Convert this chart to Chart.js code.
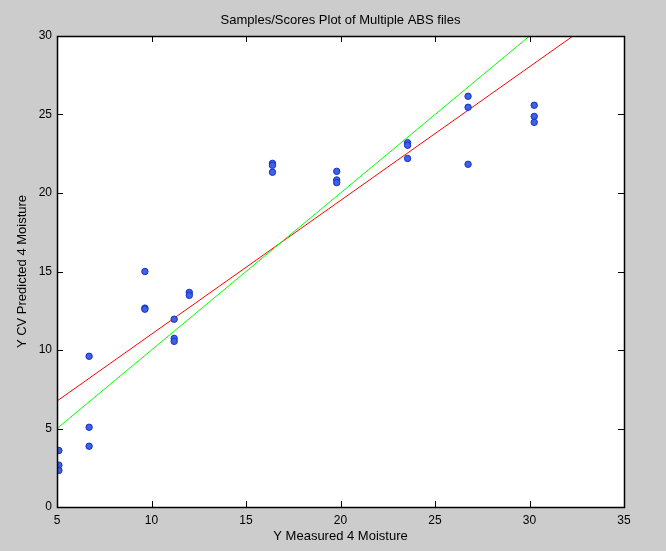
<!DOCTYPE html>
<html>
<head>
<meta charset="utf-8">
<script src="https://cdn.jsdelivr.net/npm/chart.js@4.4.1/dist/chart.umd.min.js"></script>
<style>
html,body{margin:0;padding:0;background:#cccccc;}
#wrap{width:666px;height:551px;position:relative;}
</style>
</head>
<body>
<div id="wrap"><canvas id="c" width="666" height="551"></canvas></div>
<script>
// ---- data ----
const measuredX = [5.1,5.1,5.1, 6.7,6.7,6.7, 9.65,9.65,9.65, 11.2,11.2,11.2, 12.0,12.0, 16.4,16.4,16.4, 19.8,19.8,19.8, 23.55,23.55,23.55, 26.75,26.75,26.75, 30.25,30.25,30.25];
const predictedY = [3.6,2.67,2.33, 9.6,5.08,3.87, 15.0,12.67,12.6, 11.96,10.74,10.55, 13.67,13.48, 21.89,21.76,21.32, 21.38,20.83,20.66, 23.2,23.04,22.2, 26.16,25.46,21.83, 25.59,24.88,24.5];
const idealLineX = [5, 30];
const idealLineY = [5, 30];
const fitLineX = [5, 32.3];
const fitLineY = [6.75, 30];
const xTicks = [5,10,15,20,25,30,35];
const yTicks = [0,5,10,15,20,25,30];
const titleText = 'Samples/Scores Plot of Multiple ABS files';
const xTitle = 'Y Measured 4 Moisture';
const yTitle = 'Y CV Predicted 4 Moisture';

const pts = measuredX.map((x,i)=>({x:x,y:predictedY[i]}));
const ideal = idealLineX.map((x,i)=>({x:x,y:idealLineY[i]}));
const fit = fitLineX.map((x,i)=>({x:x,y:fitLineY[i]}));

const FONT = "'Liberation Sans', Arial, sans-serif";
const TEXT = '#000000';

const boxPlugin = {
  id:'box',
  beforeDraw(chart){
    const ctx=chart.ctx, a=chart.chartArea;
    ctx.save();
    ctx.fillStyle='#cccccc';
    ctx.fillRect(0,0,chart.width,chart.height);
    ctx.fillStyle='#ffffff';
    ctx.fillRect(a.left,a.top,a.right-a.left,a.bottom-a.top);
    ctx.restore();
  },
  afterDraw(chart){
    const ctx=chart.ctx, a=chart.chartArea;
    const xs=chart.scales.x, ys=chart.scales.y;
    const L=6;
    ctx.save();
    ctx.strokeStyle='#000';
    ctx.lineWidth=1;
    ctx.beginPath();
    xTicks.forEach(v=>{
      const p=Math.round(xs.getPixelForValue(v))+0.5;
      ctx.moveTo(p,a.bottom); ctx.lineTo(p,a.bottom-L);
      ctx.moveTo(p,a.top); ctx.lineTo(p,a.top+L);
    });
    yTicks.forEach(v=>{
      const p=Math.round(ys.getPixelForValue(v))+0.5;
      ctx.moveTo(a.left,p); ctx.lineTo(a.left+L,p);
      ctx.moveTo(a.right,p); ctx.lineTo(a.right-L,p);
    });
    ctx.stroke();
    ctx.lineWidth=1.5;
    ctx.strokeRect(Math.round(a.left)+0.5,Math.round(a.top)+0.5,Math.round(a.right-a.left),Math.round(a.bottom-a.top));
    ctx.restore();
  }
};

new Chart(document.getElementById('c'),{
  type:'scatter',
  data:{datasets:[
    {label:'samples',data:pts,pointRadius:3.2,pointHoverRadius:3.2,pointBackgroundColor:'#3d62e6',pointBorderColor:'#1a2fc8',pointBorderWidth:1,showLine:false,order:1},
    {label:'ideal',data:ideal,type:'line',showLine:true,borderColor:'#00ff00',borderWidth:1,pointRadius:0,fill:false,order:2},
    {label:'fit',data:fit,type:'line',showLine:true,borderColor:'#ff0000',borderWidth:1,pointRadius:0,fill:false,order:2}
  ]},
  options:{
    responsive:false,
    animation:false,
    devicePixelRatio:1,
    layout:{padding:{top:0,right:0,left:15,bottom:0}},
    plugins:{
      legend:{display:false},
      tooltip:{enabled:false},
      title:{display:true,text:titleText,color:TEXT,font:{family:FONT,size:13,weight:'normal',lineHeight:1.2},padding:{top:13,bottom:7.4}}
    },
    scales:{
      x:{type:'linear',min:5,max:35,
        afterBuildTicks:s=>{s.ticks=xTicks.map(v=>({value:v}));},
        afterFit:s=>{s.height=44;},
        grid:{display:false,drawTicks:false},
        border:{display:false},
        ticks:{color:TEXT,font:{family:FONT,size:12},padding:6,maxRotation:0,autoSkip:false},
        title:{display:true,text:xTitle,color:TEXT,font:{family:FONT,size:13},padding:{top:2,bottom:7}}
      },
      y:{type:'linear',min:0,max:30,
        afterBuildTicks:s=>{s.ticks=yTicks.map(v=>({value:v}));},
        afterFit:s=>{s.width=42;},
        grid:{display:false,drawTicks:false},
        border:{display:false},
        ticks:{color:TEXT,font:{family:FONT,size:12},padding:5,autoSkip:false},
        title:{display:true,text:yTitle,color:TEXT,font:{family:FONT,size:13},padding:{top:0,bottom:0}}
      },
      yRight:{type:'linear',position:'right',min:0,max:30,
        afterFit:s=>{s.width=42;},
        grid:{display:false,drawTicks:false},
        border:{display:false},
        ticks:{display:false}
      }
    }
  },
  plugins:[boxPlugin]
});
</script>
</body>
</html>
